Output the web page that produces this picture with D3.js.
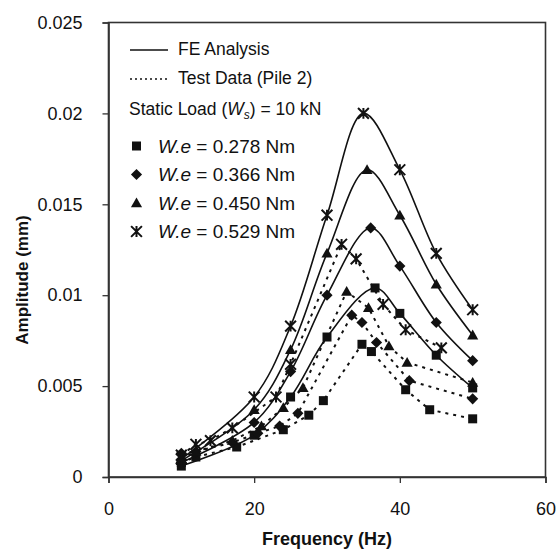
<!DOCTYPE html>
<html>
<head>
<meta charset="utf-8">
<script src="https://cdn.jsdelivr.net/npm/d3@7"></script>
<style>
  body { margin: 0; background: #fff; }
  text { font-family: "Liberation Sans", Arial, sans-serif; fill: #111; }
</style>
</head>
<body>
<svg id="chart" width="558" height="551"></svg>
<script>
// FE analysis (solid lines)
const feFreq529 = [10, 20, 25, 30, 35, 40, 45, 50];
const feAmp529 = [0.0010, 0.0044, 0.0083, 0.0144, 0.0200, 0.0169, 0.0123, 0.0092];
const feFreq450 = [10, 20, 25, 30, 35.5, 40, 45, 50];
const feAmp450 = [0.0009, 0.0037, 0.0070, 0.0123, 0.0169, 0.0144, 0.0106, 0.0078];
const feFreq366 = [10, 20, 25, 30, 36, 40, 45, 50];
const feAmp366 = [0.0008, 0.0030, 0.0058, 0.0100, 0.0137, 0.0116, 0.0085, 0.0064];
const feFreq278 = [10, 20, 25, 30, 36.6, 40, 45, 50];
const feAmp278 = [0.0006, 0.0023, 0.0044, 0.0077, 0.0104, 0.0090, 0.0067, 0.0049];

// test data, pile 2 (dotted lines)
const tFreq529 = [10, 12, 14, 17, 23, 25, 32, 34, 37.7, 40.8, 45.7];
const tAmp529 = [0.0012, 0.0018, 0.0020, 0.0027, 0.0044, 0.0062, 0.0128, 0.0120, 0.0095, 0.0081, 0.0071];
const tFreq450 = [10, 12, 17, 21, 24, 26.7, 32.7, 35.7, 38.5, 41, 50];
const tAmp450 = [0.0010, 0.0014, 0.0020, 0.0028, 0.0038, 0.0049, 0.0102, 0.0093, 0.0072, 0.0063, 0.0052];
const tFreq366 = [10, 12, 17, 20.5, 23.5, 26, 33.4, 34.8, 36.8, 41.3, 50];
const tAmp366 = [0.0013, 0.0014, 0.0019, 0.0024, 0.0028, 0.0035, 0.0089, 0.0085, 0.0074, 0.0053, 0.0043];
const tFreq278 = [10, 12, 17.6, 24, 27.5, 29.5, 34.8, 36.1, 40.8, 44.1, 50];
const tAmp278 = [0.0008, 0.0011, 0.00165, 0.0026, 0.0034, 0.0042, 0.0073, 0.0069, 0.0048, 0.0037, 0.0032];

const xTicks = [0, 20, 40, 60];
const yTicks = [0, 0.005, 0.01, 0.015, 0.02, 0.025];
const legendLabels = ["0.278", "0.366", "0.450", "0.529"];
const markerTypes = ["square", "diamond", "triangle", "star"];

const zip = (f, a) => f.map((d, i) => ({f: d, a: a[i]}));
const series = [
  {marker: "square", fe: zip(feFreq278, feAmp278), test: zip(tFreq278, tAmp278)},
  {marker: "diamond", fe: zip(feFreq366, feAmp366), test: zip(tFreq366, tAmp366)},
  {marker: "triangle", fe: zip(feFreq450, feAmp450), test: zip(tFreq450, tAmp450)},
  {marker: "star", fe: zip(feFreq529, feAmp529), test: zip(tFreq529, tAmp529)}
];

const svg = d3.select("#chart");
const margin = {top: 22.5, right: 12.5, bottom: 74, left: 108.5};
const width = +svg.attr("width") - margin.left - margin.right;
const height = +svg.attr("height") - margin.top - margin.bottom;

const x = d3.scaleLinear().domain([0, 60]).range([0, width]);
const y = d3.scaleLinear().domain([0, 0.025]).range([height, 0]);

const g = svg.append("g")
  .attr("transform", "translate(" + margin.left + "," + margin.top + ")");

// frame
g.append("rect")
  .attr("width", width).attr("height", height)
  .attr("fill", "none").attr("stroke", "#333").attr("stroke-width", 1.6);

const xAxis = g.append("g")
  .attr("transform", "translate(0," + height + ")")
  .call(d3.axisBottom(x).tickValues(xTicks).tickSize(6).tickPadding(19).tickFormat(d3.format("d")));
const yAxis = g.append("g")
  .call(d3.axisLeft(y).tickValues(yTicks).tickSize(6).tickPadding(20).tickFormat(d => d === 0 ? "0" : String(+d.toFixed(3))));
[xAxis, yAxis].forEach(ax => {
  ax.select(".domain").attr("stroke", "#333").attr("stroke-width", 1.6);
  ax.selectAll(".tick line").attr("stroke", "#333").attr("stroke-width", 1.3);
  ax.selectAll(".tick text").attr("font-size", 18).attr("fill", "#111")
    .style("font-family", "'Liberation Sans', Arial, sans-serif");
});

svg.append("text")
  .attr("x", 327).attr("y", 545)
  .attr("text-anchor", "middle").attr("font-size", 18).attr("font-weight", "bold")
  .text("Frequency (Hz)");
svg.append("text")
  .attr("transform", "translate(28,280) rotate(-90)")
  .attr("text-anchor", "middle").attr("font-size", 17).attr("font-weight", "bold")
  .text("Amplitude (mm)");

function drawMarker(sel, type, s) {
  if (type === "square") {
    sel.append("rect").attr("x", -s / 2).attr("y", -s / 2).attr("width", s).attr("height", s).attr("fill", "#111");
  } else if (type === "diamond") {
    const r = s * 0.62;
    sel.append("path").attr("d", `M0,${-r}L${r},0L0,${r}L${-r},0Z`).attr("fill", "#111");
  } else if (type === "triangle") {
    const r = s * 0.62;
    sel.append("path").attr("d", `M0,${-r}L${r},${r * 0.75}L${-r},${r * 0.75}Z`).attr("fill", "#111");
  } else {
    const r = s * 0.6;
    sel.append("path").attr("d", `M${-r},${-r}L${r},${r}M${-r},${r}L${r},${-r}M0,${-r}L0,${r}`)
      .attr("stroke", "#111").attr("stroke-width", 2).attr("fill", "none");
  }
}

const line = d3.line().x(d => x(d.f)).y(d => y(d.a)).curve(d3.curveCatmullRom.alpha(0.5));
const testLine = d3.line().x(d => x(d.f)).y(d => y(d.a));

series.forEach(s => {
  g.append("path").datum(s.test)
    .attr("d", testLine).attr("fill", "none").attr("stroke", "#111")
    .attr("stroke-width", 2).attr("stroke-dasharray", "3,5");
  g.append("path").datum(s.fe)
    .attr("d", line).attr("fill", "none").attr("stroke", "#111").attr("stroke-width", 1.6);
  [s.test, s.fe].forEach(pts => {
    g.selectAll(null).data(pts).enter().append("g")
      .attr("transform", d => "translate(" + x(d.f) + "," + y(d.a) + ")")
      .each(function() { drawMarker(d3.select(this), s.marker, 9); });
  });
});

// legend
const lg = svg.append("g");
lg.append("line").attr("x1", 130).attr("x2", 168).attr("y1", 50).attr("y2", 50)
  .attr("stroke", "#111").attr("stroke-width", 1.5);
lg.append("text").attr("x", 178).attr("y", 55).attr("font-size", 17.5).text("FE Analysis");
lg.append("line").attr("x1", 130).attr("x2", 168).attr("y1", 79).attr("y2", 79)
  .attr("stroke", "#111").attr("stroke-width", 1.5).attr("stroke-dasharray", "2,3");
lg.append("text").attr("x", 178).attr("y", 84).attr("font-size", 17.5).text("Test Data (Pile 2)");
const st = lg.append("text").attr("x", 129).attr("y", 115).attr("font-size", 17.5);
st.append("tspan").text("Static Load (");
st.append("tspan").attr("font-style", "italic").text("W");
st.append("tspan").attr("font-style", "italic").attr("font-size", 12).attr("dy", 4).text("s");
st.append("tspan").attr("dy", -4).text(") = 10 kN");

legendLabels.forEach((lab, i) => {
  const yy = 146 + i * 28.5;
  drawMarker(lg.append("g").attr("transform", "translate(136.5," + yy + ")"), markerTypes[i], 9);
  const t = lg.append("text").attr("x", 158).attr("y", yy + 6.5).attr("font-size", 19);
  t.append("tspan").attr("font-style", "italic").text("W.e");
  t.append("tspan").text(" = " + lab + " Nm");
});
</script>
</body>
</html>
